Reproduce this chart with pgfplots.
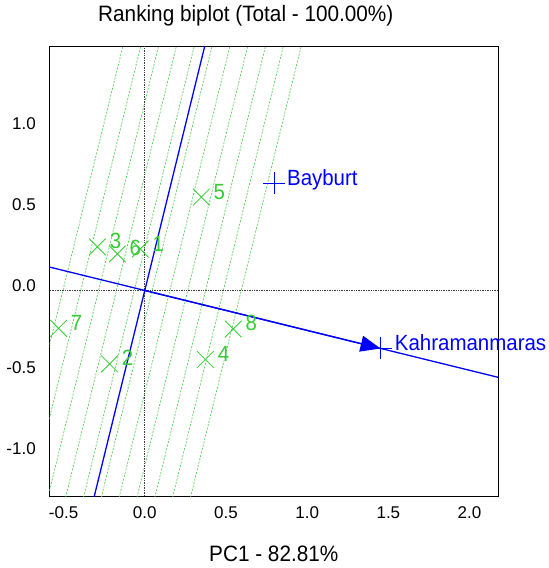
\documentclass[border=0pt]{standalone}
\usepackage{fontspec}
\setmainfont{Liberation Sans}
\newfontfamily\cond[FakeStretch=0.93]{Liberation Sans}
\usepackage{pgfplots}
\pgfplotsset{compat=1.18}
\usetikzlibrary{arrows.meta}
\definecolor{gg}{RGB}{51,204,51}
\definecolor{gl}{RGB}{90,205,90}
\begin{document}
\begin{tikzpicture}
\begin{axis}[
  scale only axis, width=449pt, height=450pt,
  xmin=-0.588, xmax=2.177, ymin=-1.269, ymax=1.500,
  axis line style={line width=1.3pt},
  xtick={-0.5,0,0.5,1,1.5,2}, ytick={-1,-0.5,0,0.5,1},
  major tick length=0pt,
  /pgf/number format/.cd, fixed, fixed zerofill, precision=1, assume math mode=true,
  /pgfplots/.cd,
  ticklabel style={font=\fontsize{17}{19}\selectfont},
  xticklabel style={anchor=base, yshift=-21.7pt},
  yticklabel style={anchor=base east, xshift=-10pt, yshift=-1.3pt},
  title={Ranking biplot (Total - 100.00\%)},
  title style={font=\cond\fontsize{22.3}{26}\selectfont, at={(axis description cs:0.5,1)}, anchor=base, yshift=19.5pt, xshift=-28pt},
  xlabel={PC1 - 82.81\%},
  xlabel style={font=\cond\fontsize{22.3}{26}\selectfont, at={(axis description cs:0.5,0)}, anchor=base, yshift=-65pt},
]
% green ranking lines
\addplot[gl, line width=0.7pt, dash pattern=on 2pt off 1.5pt] coordinates {(-0.8478,-1.4) (-0.1110,1.6)};
\addplot[gl, line width=0.7pt, dash pattern=on 2pt off 1.5pt] coordinates {(-0.7380,-1.4) (-0.0012,1.6)};
\addplot[gl, line width=0.7pt, dash pattern=on 2pt off 1.5pt] coordinates {(-0.6282,-1.4) (0.1086,1.6)};
\addplot[gl, line width=0.7pt, dash pattern=on 2pt off 1.5pt] coordinates {(-0.5184,-1.4) (0.2184,1.6)};
\addplot[gl, line width=0.7pt, dash pattern=on 2pt off 1.5pt] coordinates {(-0.4086,-1.4) (0.3282,1.6)};
\addplot[gl, line width=0.7pt, dash pattern=on 2pt off 1.5pt] coordinates {(-0.2988,-1.4) (0.4380,1.6)};
\addplot[gl, line width=0.7pt, dash pattern=on 2pt off 1.5pt] coordinates {(-0.1890,-1.4) (0.5478,1.6)};
\addplot[gl, line width=0.7pt, dash pattern=on 2pt off 1.5pt] coordinates {(-0.0792,-1.4) (0.6576,1.6)};
\addplot[gl, line width=0.7pt, dash pattern=on 2pt off 1.5pt] coordinates {(0.0306,-1.4) (0.7674,1.6)};
\addplot[gl, line width=0.7pt, dash pattern=on 2pt off 1.5pt] coordinates {(0.1404,-1.4) (0.8772,1.6)};
\addplot[gl, line width=0.7pt, dash pattern=on 2pt off 1.5pt] coordinates {(0.2502,-1.4) (0.9870,1.6)};
% dotted origin lines
\addplot[black!75, line width=0.7pt, densely dotted] coordinates {(-0.7,0) (2.3,0)};
\addplot[black!75, line width=0.7pt, densely dotted] coordinates {(0,-1.4) (0,1.6)};
% blue axes
\addplot[blue, line width=1.3pt] coordinates {(-0.7,0.1719) (2.3,-0.5649)};
\addplot[blue, line width=1.3pt] coordinates {(-0.3438,-1.4) (0.3930,1.6)};
\addplot[blue, line width=1.3pt, -{Triangle[length=20pt,width=16pt]}] coordinates {(0,0) (1.452,-0.357)};
% genotypes
\addplot[only marks, mark=x, mark size=11.8pt, gg, mark options={line width=0.8pt},
  nodes near coords, point meta=explicit symbolic,
  nodes near coords style={anchor=base west, inner sep=0pt, xshift=12pt, yshift=-2pt, text=gg, font=\cond\fontsize{22}{26}\selectfont}]
  table[meta=l] {
x y l
-0.028 0.255 1
-0.217 -0.452 2
-0.292 0.268 3
0.373 -0.425 4
0.348 0.575 5
-0.169 0.225 6
-0.531 -0.233 7
0.545 -0.237 8
};
% environments
\addplot[only marks, mark=+, mark size=11pt, blue, mark options={line width=0.8pt},
  nodes near coords, point meta=explicit symbolic,
  nodes near coords style={anchor=base west, inner sep=0pt, xshift=12.5pt, yshift=-2pt, text=blue, font=\cond\fontsize{22}{26}\selectfont}]
  table[meta=l] {
x y l
0.797 0.660 Bayburt
};
\addplot[only marks, mark=+, mark size=11pt, blue, mark options={line width=0.8pt},
  nodes near coords, point meta=explicit symbolic,
  nodes near coords style={anchor=base west, inner sep=0pt, xshift=14pt, yshift=-2pt, text=blue, font=\cond\fontsize{22}{26}\selectfont}]
  table[meta=l] {
x y l
1.452 -0.357 Kahramanmaras
};
\end{axis}
\pgfresetboundingbox
\path[use as bounding box] (-49.3pt,-71.3pt) rectangle (499.7pt,496.7pt);
\end{tikzpicture}
\end{document}
